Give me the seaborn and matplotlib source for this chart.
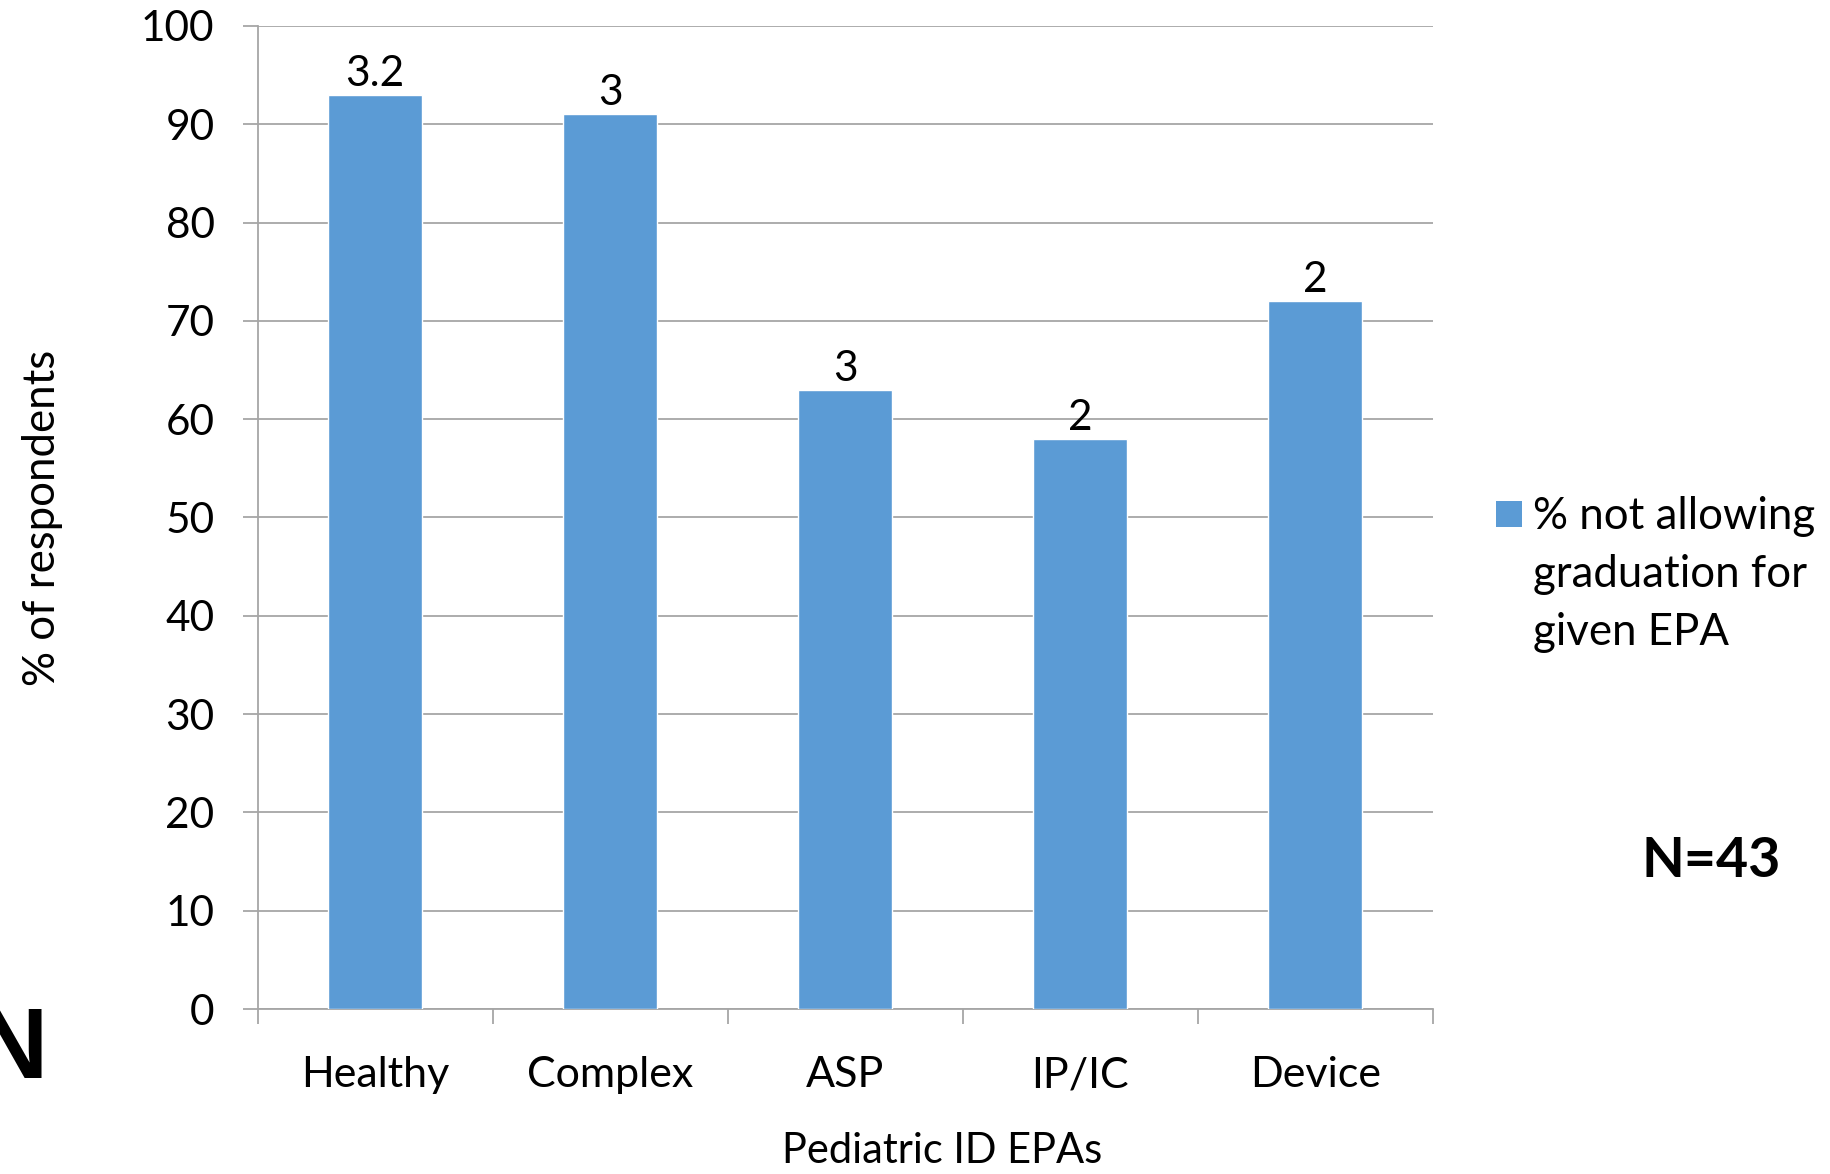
import matplotlib
matplotlib.use("Agg")
import matplotlib.pyplot as plt
import seaborn as sns
import pandas as pd
from matplotlib.patches import Rectangle

# Data
categories = ["Healthy", "Complex", "ASP", "IP/IC", "Device"]
pct_not_allowing = [93, 91, 63, 58, 72]
bar_labels = ["3.2", "3", "3", "2", "2"]
series_name = "% not allowing\ngraduation for\ngiven EPA"
y_ticks = [0, 10, 20, 30, 40, 50, 60, 70, 80, 90, 100]

sns.set_theme(style="white")
plt.rcParams["font.family"] = ["Lato", "DejaVu Sans"]
plt.rcParams["text.color"] = "black"
plt.rcParams["xtick.color"] = "black"
plt.rcParams["ytick.color"] = "black"
plt.rcParams["axes.labelcolor"] = "black"

BAR = "#5B9BD5"
GRID = "#A6A6A6"
W, H = 1831, 1174

fig = plt.figure(figsize=(W / 100, H / 100), dpi=100)
ax = fig.add_axes([0.1407, 0.1405, 0.7826 - 0.1407, 0.9779 - 0.1405])

df = pd.DataFrame({"EPA": categories, "pct": pct_not_allowing})
sns.barplot(data=df, x="EPA", y="pct", color=BAR, width=0.4, saturation=1,
            ax=ax, zorder=3)

ax.set_xlim(-0.5, len(categories) - 0.5)
ax.set_ylim(0, 100)
ax.set_yticks(y_ticks)
ax.yaxis.grid(True, color=GRID, linewidth=1.3, zorder=0)
ax.set_axisbelow(True)

for s in ["top", "right"]:
    ax.spines[s].set_visible(False)
for s in ["left", "bottom"]:
    ax.spines[s].set_color(GRID)
    ax.spines[s].set_linewidth(1.3)

# category boundary ticks on x, gridline stubs on y
ax.set_xticks(range(len(categories)))
ax.set_xticks([i - 0.5 for i in range(len(categories) + 1)], minor=True)
ax.tick_params(axis="x", which="major", length=0, pad=34, labelsize=31,
               labelcolor="black")
ax.tick_params(axis="x", which="minor", length=11, width=1.3, color=GRID,
               direction="out", bottom=True)
ax.tick_params(axis="y", length=11, width=1.3, color=GRID, direction="out",
               left=True, pad=20, labelsize=30.5, labelcolor="black")

ax.set_xlabel("Pediatric ID EPAs", fontsize=30)
ax.xaxis.set_label_coords(0.582, -0.125)
ax.set_ylabel("% of respondents", fontsize=31.5)
ax.yaxis.set_label_coords(-0.166, 0.5)

for i, (v, lab) in enumerate(zip(pct_not_allowing, bar_labels)):
    ax.annotate(lab, (i, v), xytext=(0, 1.5), textcoords="offset points",
                ha="center", va="bottom", fontsize=30.5)

# legend: square key beside a three-line label
key_x, key_y, key_s = 1496 / W, 1 - 527 / H, 26 / W
fig.patches.append(Rectangle((key_x, key_y), key_s, 26 / H, transform=fig.transFigure,
                             facecolor=BAR, edgecolor="none"))
fig.text(1533 / W, 1 - 496 / H, series_name, fontsize=31.5, ha="left",
         va="top", linespacing=1.51)

fig.text(1711 / W, 1 - 861 / H, "N=43", fontsize=40, fontweight="bold",
         ha="center", va="center")
fig.text(48 / W, 1 - 1078 / H, "N", fontsize=72, fontweight="bold",
         family="Liberation Sans", ha="right", va="baseline")

fig.savefig("out.png", dpi=100)
